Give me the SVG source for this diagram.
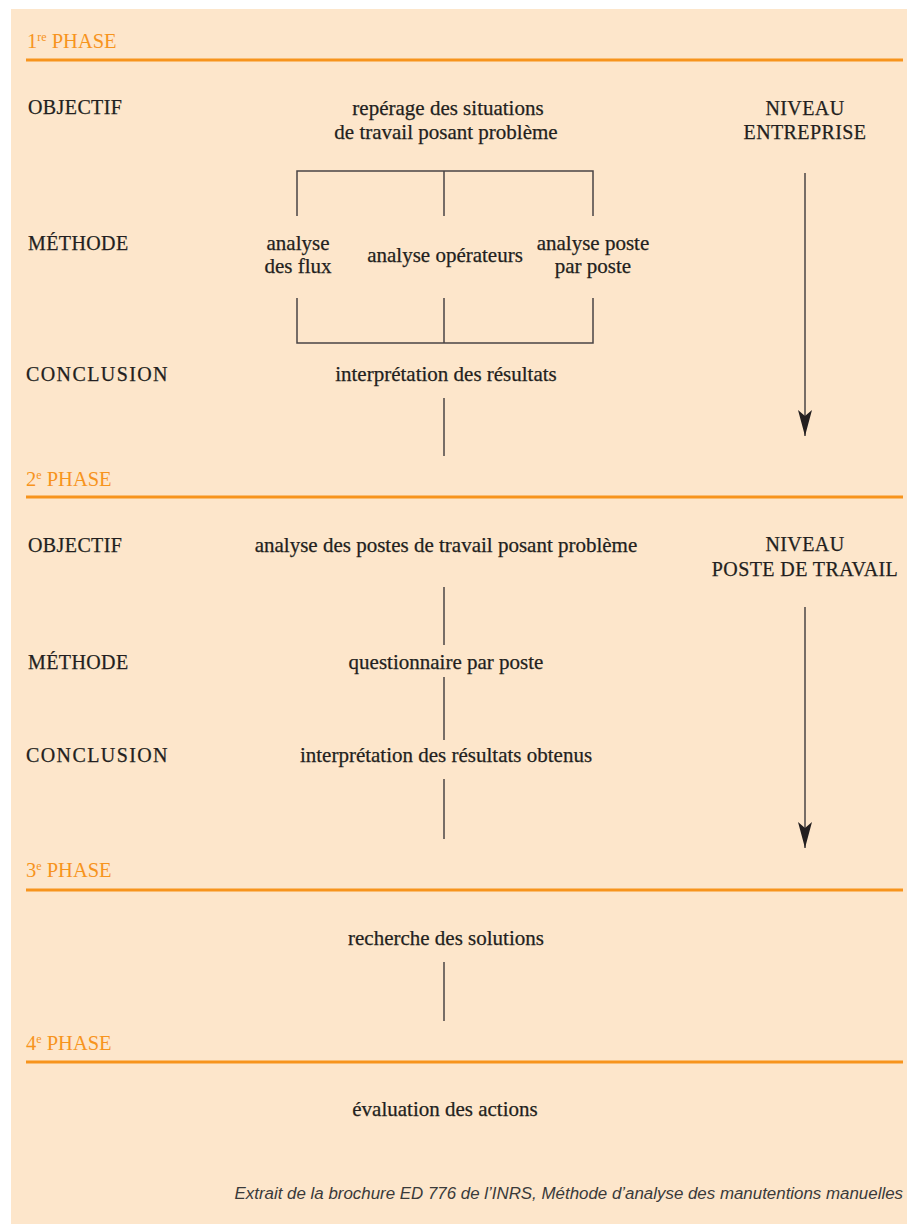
<svg xmlns="http://www.w3.org/2000/svg" width="907" height="1224" viewBox="0 0 907 1224">
<defs>
<style>
.t{font-family:"Liberation Serif","DejaVu Serif",serif;font-size:21px;fill:#231f20;stroke:#231f20;stroke-width:0.25}
.k{font-size:20px;letter-spacing:0.4px}
.w{letter-spacing:1.4px}
.c{text-anchor:middle}
.ph{font-family:"Liberation Serif","DejaVu Serif",serif;font-size:20.5px;fill:#f7941d}
.sup{font-size:12px}
.ol{stroke:#f7941d;stroke-width:3}
.ln{stroke:#4a4445;stroke-width:1.5;fill:none}
.foot{font-family:"Liberation Sans","DejaVu Sans",sans-serif;font-style:italic;font-size:16.9px;fill:#3a3a3a;text-anchor:end}
</style>
<marker id="ah2" viewBox="0 0 14 26" refX="7" refY="26" markerWidth="14" markerHeight="26" markerUnits="userSpaceOnUse" orient="0">
<path d="M0,0 L7,6 L14,0 L7,26 Z" fill="#231f20"/>
</marker>
</defs>
<rect x="11" y="9" width="896" height="1215" fill="#fde6cb"/>

<g id="phase1">
<text class="ph" x="27" y="48">1<tspan class="sup" dy="-7">re</tspan><tspan dy="7"> PHASE</tspan></text>
<line class="ol" x1="26" y1="60" x2="903" y2="60"/>
</g>
<g id="phase2">
<text class="ph" x="26" y="486">2<tspan class="sup" dy="-7">e</tspan><tspan dy="7"> PHASE</tspan></text>
<line class="ol" x1="26" y1="497" x2="903" y2="497"/>
</g>
<g id="phase3">
<text class="ph" x="26" y="877">3<tspan class="sup" dy="-7">e</tspan><tspan dy="7"> PHASE</tspan></text>
<line class="ol" x1="26" y1="890" x2="903" y2="890"/>
</g>
<g id="phase4">
<text class="ph" x="26" y="1050">4<tspan class="sup" dy="-7">e</tspan><tspan dy="7"> PHASE</tspan></text>
<line class="ol" x1="26" y1="1062" x2="903" y2="1062"/>
</g>

<g id="labels-left">
<text class="t k" x="28" y="114">OBJECTIF</text>
<text class="t k" x="28" y="250">MÉTHODE</text>
<text class="t k w" x="26" y="381">CONCLUSION</text>
<text class="t k" x="28" y="552">OBJECTIF</text>
<text class="t k" x="28" y="669">MÉTHODE</text>
<text class="t k w" x="26" y="762">CONCLUSION</text>
</g>

<g id="niveau-entreprise">
<text class="t k c" x="805" y="115">NIVEAU</text>
<text class="t k c" x="805" y="139">ENTREPRISE</text>
</g>
<g id="niveau-poste">
<text class="t k c" x="805" y="551">NIVEAU</text>
<text class="t k c" x="805" y="576">POSTE DE TRAVAIL</text>
</g>

<g id="n-reperage">
<text class="t c" x="448" y="115">repérage des situations</text>
<text class="t c" x="446" y="139">de travail posant problème</text>
</g>
<g id="n-flux">
<text class="t c" x="298" y="250">analyse</text>
<text class="t c" x="298" y="273">des flux</text>
</g>
<g id="n-operateurs">
<text class="t c" x="445" y="262">analyse opérateurs</text>
</g>
<g id="n-poste">
<text class="t c" x="593" y="250">analyse poste</text>
<text class="t c" x="593" y="273">par poste</text>
</g>
<g id="n-interp1">
<text class="t c" x="446" y="381">interprétation des résultats</text>
</g>
<g id="n-analyse-postes">
<text class="t c" x="446" y="552">analyse des postes de travail posant problème</text>
</g>
<g id="n-questionnaire">
<text class="t c" x="446" y="669">questionnaire par poste</text>
</g>
<g id="n-interp2">
<text class="t c" x="446" y="762">interprétation des résultats obtenus</text>
</g>
<g id="n-recherche">
<text class="t c" x="446" y="945">recherche des solutions</text>
</g>
<g id="n-evaluation">
<text class="t c" x="445" y="1116">évaluation des actions</text>
</g>

<g id="connectors">
<path class="ln" d="M297,216 V171 H593 V216 M444,171 V216"/>
<path class="ln" d="M297,298 V343 H593 V298 M444,298 V343"/>
<line class="ln" x1="444" y1="398" x2="444" y2="456"/>
<line class="ln" x1="444" y1="587" x2="444" y2="645"/>
<line class="ln" x1="444" y1="677" x2="444" y2="740"/>
<line class="ln" x1="444" y1="779" x2="444" y2="839"/>
<line class="ln" x1="444" y1="962" x2="444" y2="1021"/>
<line class="ln" x1="805" y1="173" x2="805" y2="436" marker-end="url(#ah2)"/>
<line class="ln" x1="805" y1="607" x2="805" y2="848" marker-end="url(#ah2)"/>
</g>

<text class="foot" x="903" y="1199">Extrait de la brochure ED 776 de l’INRS, Méthode d’analyse des manutentions manuelles</text>
</svg>
